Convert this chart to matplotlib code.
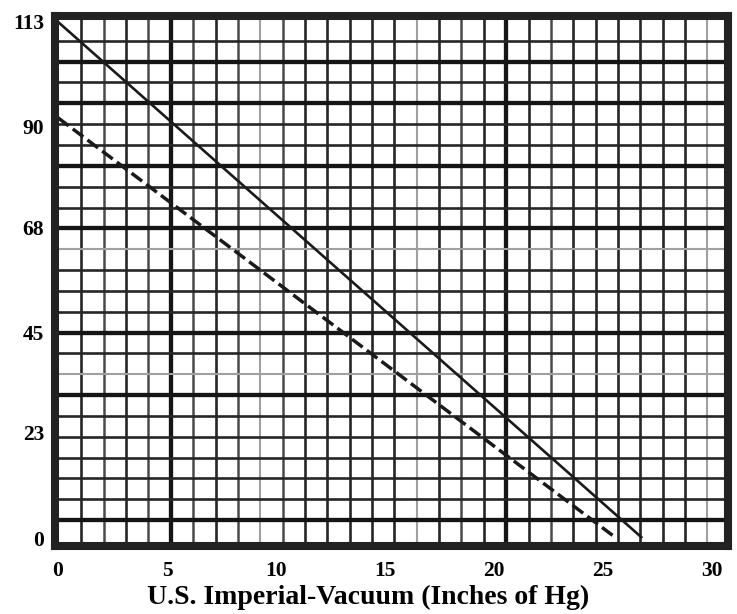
import matplotlib
matplotlib.use('Agg')
import matplotlib.pyplot as plt

# curves (x: inches of Hg, y: left scale)
solid_x = [0, 26.8]
solid_y = [113, 0]
dashed_x = [0, 25.6]
dashed_y = [92, 0]

x_ticks = [0, 5, 10, 15, 20, 25, 30]
y_ticks = [0, 23, 45, 68, 90, 113]
x_title = 'U.S. Imperial-Vacuum (Inches of Hg)'

# graph paper: 30 columns x 25 rows, some lines heavier / fainter in the scan
n_cols, n_rows = 30, 25
v_heavy = [5, 20]
v_light = [9, 16, 29]
v_mid = [2, 4, 6, 8, 10, 18, 22]
h_heavy = [1, 7, 10, 15, 18, 21, 23]
h_light = [8, 14]

plt.rcParams['font.family'] = ['Liberation Serif', 'DejaVu Serif']

fig = plt.figure(figsize=(7.37, 6.14), dpi=100)
pos = [55 / 737, 1 - 545.5 / 614, (727.5 - 55) / 737, (545.5 - 16) / 614]

# paper grid in its own units
gax = fig.add_axes(pos, zorder=0)
gax.set_xlim(-0.18, 29.9)
gax.set_ylim(-0.22, 25.19)
gax.axis('off')


def line_style(i, heavy, light, mid):
    if i in heavy:
        return 3.1, '#151515'
    if i in light:
        return 1.5, '#a0a0a0'
    if i in mid:
        return 1.8, '#4a4a4a'
    return 1.9, '#262626'


for i in range(1, n_cols):
    lw, c = line_style(i, v_heavy, v_light, v_mid)
    gax.axvline(i, lw=lw, color=c)
for j in range(1, n_rows):
    lw, c = line_style(j, h_heavy, h_light, [])
    gax.axhline(j, lw=lw, color=c)

# data axes on top
ax = fig.add_axes(pos, zorder=1)
ax.patch.set_alpha(0)
ax.plot(solid_x, solid_y, color='#1a1a1a', lw=1.9, solid_capstyle='butt')
ax.plot(dashed_x, dashed_y, color='#1a1a1a', lw=2.5, dashes=(3.8, 1.5))
ax.set_xlim(-0.14, 30.71)
ax.set_ylim(-1.64, 114.3)

for s in ax.spines.values():
    s.set_linewidth(5.8)
    s.set_color('#222222')

ax.set_xticks(x_ticks)
ax.set_yticks(y_ticks)
ax.tick_params(length=0, labelsize=15.5)
ax.tick_params(axis='x', pad=11)
ax.tick_params(axis='y', pad=8)
for lab in ax.get_xticklabels() + ax.get_yticklabels():
    lab.set_fontweight('bold')
ax.set_xlabel(x_title, fontsize=20, fontweight='bold')
ax.xaxis.set_label_coords(0.465, -0.075)

fig.savefig('out.png', dpi=100)
